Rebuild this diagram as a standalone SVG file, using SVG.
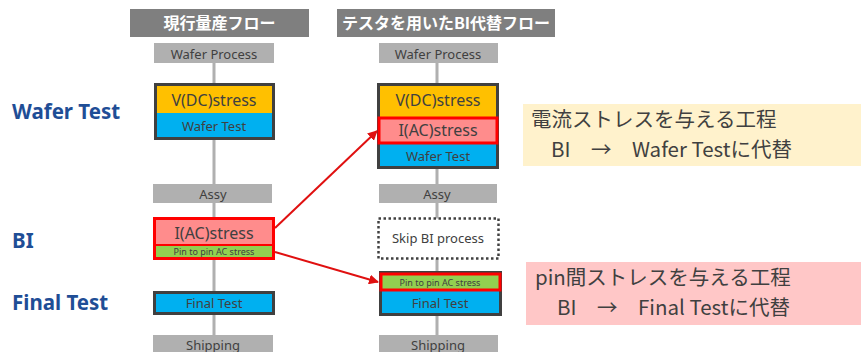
<svg xmlns="http://www.w3.org/2000/svg" width="861" height="352" viewBox="0 0 861 352">
<defs>
<style>
.hdr{fill:#7f7f7f}
.hdrt{fill:#fff;font-family:"Noto Sans CJK JP","Noto Sans",sans-serif;font-weight:bold;font-size:16px;text-anchor:middle}
.gray{fill:#b0b0b0}
.t{font-family:"Noto Sans","Liberation Sans","Noto Sans CJK JP",sans-serif;fill:#404040;text-anchor:middle}
.lbl{font-family:"Noto Sans","Liberation Sans",sans-serif;font-weight:bold;font-size:20.5px;fill:#1f4e96}
.ct{font-family:"Noto Sans CJK JP","Noto Sans",sans-serif;font-size:20.5px;fill:#404040}
.vline{stroke:#b0b0b0;stroke-width:3}
.arrow{stroke:#e01010;stroke-width:2;fill:none;marker-end:url(#ah)}
</style>
<marker id="ah" viewBox="0 0 10 10" refX="9" refY="5" markerWidth="5" markerHeight="5" orient="auto">
<path d="M0,0 L10,5 L0,10 z" fill="#e01010"/>
</marker>
</defs>
<rect width="861" height="352" fill="#fff"/>

<g id="side-labels">
<text class="lbl" x="12" y="119">Wafer Test</text>
<text class="lbl" x="12" y="248">BI</text>
<text class="lbl" x="12" y="310">Final Test</text>
</g>

<g id="connectors">
<line class="vline" x1="214" y1="63" x2="214" y2="352"/>
<line class="vline" x1="437" y1="63" x2="437" y2="352"/>
<path class="arrow" d="M275,228 L377,131"/>
<path class="arrow" d="M275,252 L378,282"/>
</g>

<g id="hdr-left">
<rect class="hdr" x="130" y="9" width="179" height="28"/>
<text class="hdrt" x="219.5" y="29">現行量産フロー</text>
</g>
<g id="hdr-right">
<rect class="hdr" x="337" y="9" width="218" height="28"/>
<text class="hdrt" x="446" y="29">テスタを用いたBI代替フロー</text>
</g>

<g id="l-wafer-process">
<rect class="gray" x="154" y="43" width="120" height="20"/>
<text class="t" x="214" y="59" font-size="13">Wafer Process</text>
</g>
<g id="l-wafer-test">
<rect x="155.5" y="84.5" width="118" height="54" fill="#00b0f0" stroke="#404040" stroke-width="3"/>
<rect x="157" y="86" width="115" height="27" fill="#ffc000"/>
<text class="t" x="214" y="106" font-size="16">V(DC)stress</text>
<text class="t" x="214" y="131" font-size="13">Wafer Test</text>
</g>
<g id="l-assy">
<rect class="gray" x="153" y="184" width="119" height="19"/>
<text class="t" x="213" y="199" font-size="13">Assy</text>
</g>
<g id="l-bi">
<rect x="154.5" y="218.5" width="119" height="40" fill="#ff8c8c" stroke="#ff0000" stroke-width="3"/>
<rect x="156" y="245" width="116" height="12" fill="#92d050"/>
<line x1="155" y1="245" x2="273" y2="245" stroke="#ff0000" stroke-width="2"/>
<text class="t" x="214" y="239" font-size="16">I(AC)stress</text>
<text class="t" x="214" y="255" font-size="9">Pin to pin AC stress</text>
</g>
<g id="l-final-test">
<rect x="154.5" y="292.5" width="119" height="21" fill="#00b0f0" stroke="#404040" stroke-width="3"/>
<text class="t" x="214" y="308" font-size="13">Final Test</text>
</g>
<g id="l-shipping">
<rect class="gray" x="153" y="335" width="120" height="20"/>
<text class="t" x="213" y="350" font-size="13">Shipping</text>
</g>

<g id="r-wafer-process">
<rect class="gray" x="379" y="43" width="119" height="20"/>
<text class="t" x="438" y="59" font-size="13">Wafer Process</text>
</g>
<g id="r-wafer-test">
<rect x="378.5" y="84.5" width="119" height="83" fill="#00b0f0" stroke="#404040" stroke-width="3"/>
<rect x="380" y="86" width="116" height="31" fill="#ffc000"/>
<rect x="379" y="118" width="118" height="25" fill="#ff8c8c" stroke="#ff0000" stroke-width="3"/>
<text class="t" x="438" y="106" font-size="16">V(DC)stress</text>
<text class="t" x="438" y="136" font-size="16">I(AC)stress</text>
<text class="t" x="438" y="161" font-size="13">Wafer Test</text>
</g>
<g id="r-assy">
<rect class="gray" x="379" y="184" width="118" height="19"/>
<text class="t" x="437" y="199" font-size="13">Assy</text>
</g>
<g id="r-skip-bi">
<rect x="378.5" y="218.5" width="120" height="40" fill="#fff" stroke="#404040" stroke-width="2.5" stroke-dasharray="2.5,2.5"/>
<text class="t" x="438" y="243" font-size="13">Skip BI process</text>
</g>
<g id="r-final-test">
<rect x="380.5" y="272.5" width="120" height="42" fill="#00b0f0" stroke="#404040" stroke-width="3"/>
<rect x="381" y="274" width="119" height="16" fill="#92d050" stroke="#ff0000" stroke-width="3"/>
<text class="t" x="440" y="285.5" font-size="9">Pin to pin AC stress</text>
<text class="t" x="440" y="308" font-size="13">Final Test</text>
</g>
<g id="r-shipping">
<rect class="gray" x="379" y="335" width="119" height="20"/>
<text class="t" x="438" y="350" font-size="13">Shipping</text>
</g>

<g id="note-wafer">
<rect x="523" y="104" width="338" height="62" fill="#fff2cc"/>
<text class="ct" x="531" y="127">電流ストレスを与える工程</text>
<text class="ct" x="551" y="157">BI　→　Wafer Testに代替</text>
</g>
<g id="note-final">
<rect x="526" y="262" width="335" height="63" fill="#ffc7c7"/>
<text class="ct" x="535" y="285">pin間ストレスを与える工程</text>
<text class="ct" x="557" y="315">BI　→　Final Testに代替</text>
</g>
</svg>
